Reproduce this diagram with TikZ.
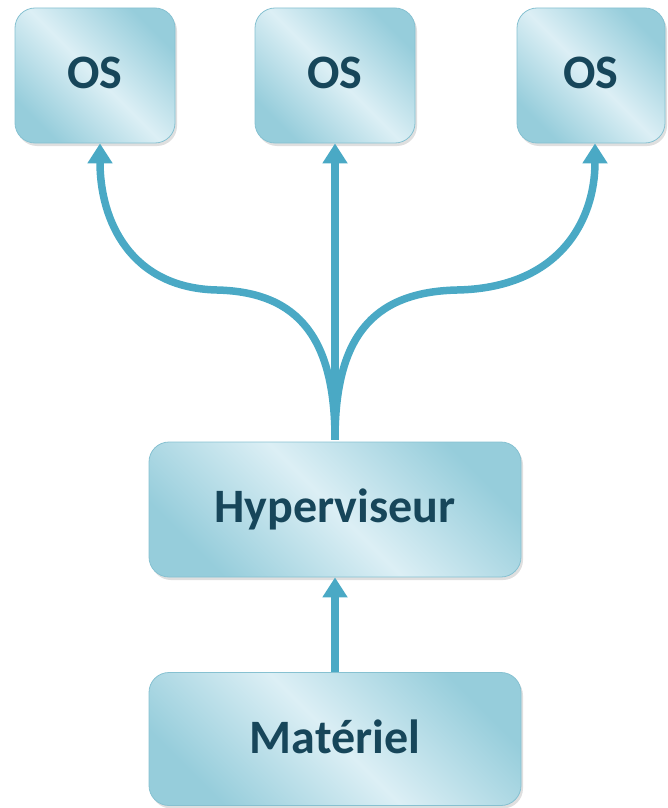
\documentclass[tikz,border=0pt]{standalone}
\usepackage{fontspec}
\setmainfont{Carlito}
\usetikzlibrary{arrows.meta,shadows}
\definecolor{boxdark}{HTML}{96CDDB}
\definecolor{boxlight}{HTML}{DCEFF5}
\definecolor{boxedge}{HTML}{86C1D1}
\definecolor{txt}{HTML}{17465A}
\definecolor{arr}{HTML}{4AA9C5}
\newcommand{\lifttxt}[1]{\raisebox{5pt}{#1}}
\begin{document}
\begin{tikzpicture}[x=1pt,y=-1pt,
  box/.style={rounded corners=20pt, draw=boxedge, line width=0.8pt,
    left color=boxdark, right color=boxdark, middle color=boxlight, shading angle=135,
    drop shadow={opacity=0.25, shadow xshift=2pt, shadow yshift=-3pt},
    font=\fontsize{48}{54}\selectfont\bfseries, text=txt, inner sep=0pt},
  link/.style={draw=arr, line width=7.5pt, -{Triangle[width=24pt,length=20pt]}}]
\useasboundingbox (0,0) rectangle (667,808);
\node[box, minimum width=160pt, minimum height=135pt] (os1) at (95,75.5) {\lifttxt{OS}};
\node[box, minimum width=160pt, minimum height=135pt] (os2) at (335,75.5) {\lifttxt{OS}};
\node[box, minimum width=148pt, minimum height=135pt] (os3) at (591,75.5) {\lifttxt{OS}};
\node[box, minimum width=372pt, minimum height=135pt] (hyp) at (335,509.5) {\lifttxt{Hyperviseur}};
\node[box, minimum width=372pt, minimum height=133pt] (mat) at (335,739) {\lifttxt{Matériel}};
\coordinate (hs) at ([yshift=2pt]hyp.north);
\draw[link] (mat.north) -- (hyp.south);
\draw[link] (hs) -- (os2.south);
\draw[link] (hs) .. controls (335,340) and (300,292) .. (217,290)
  .. controls (130,288) and (100,220) .. ([xshift=5pt]os1.south);
\draw[link] (hs) .. controls (335,340) and (370,292) .. (457,290)
  .. controls (560,288) and (595,220) .. ([xshift=4pt]os3.south);
\end{tikzpicture}
\end{document}
